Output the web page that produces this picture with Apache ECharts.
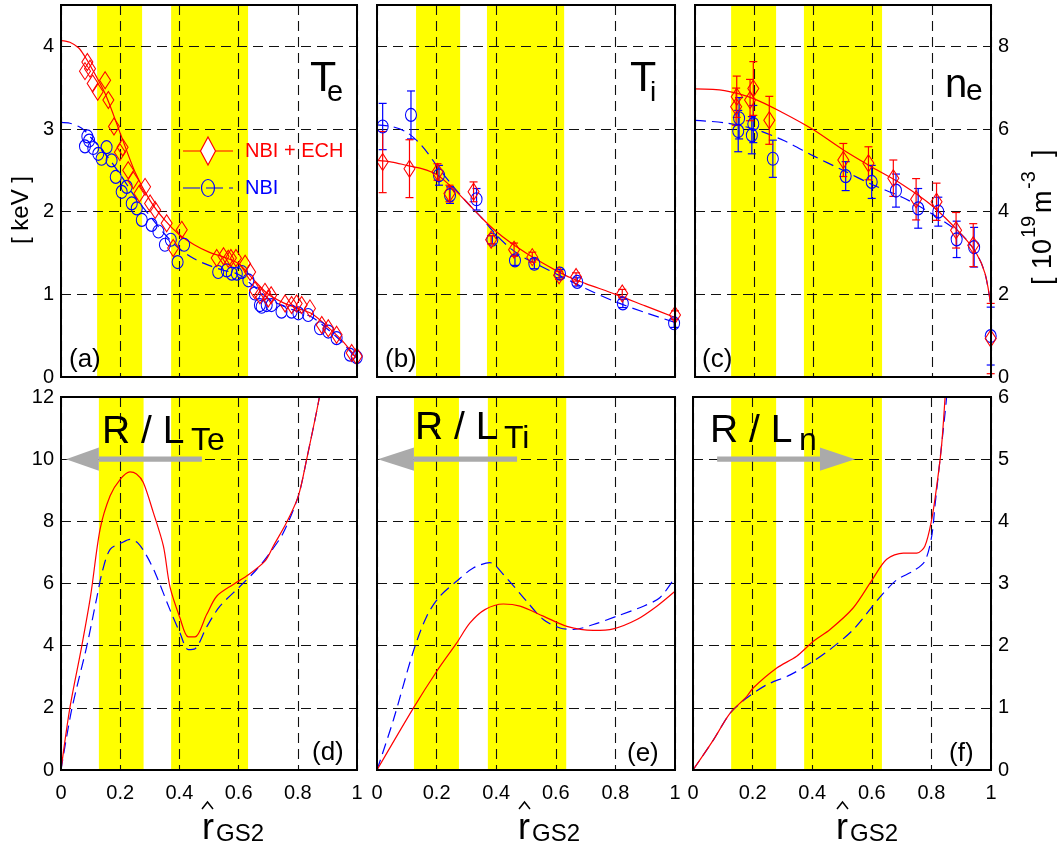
<!DOCTYPE html>
<html>
<head>
<meta charset="utf-8">
<script src="https://cdn.jsdelivr.net/npm/echarts@6/dist/echarts.min.js"></script>
<style>
  html, body { margin: 0; padding: 0; background: #fff; }
  #chart { width: 1058px; height: 851px; }
</style>
</head>
<body>
<div id="chart"></div>
<script>
// ---------- profile data: [r_GS2, value] ----------
// (a) electron temperature [keV]
const teEchPoints = [[0.081,3.70],[0.089,3.81],[0.098,3.73],[0.107,3.55],[0.124,3.45],[0.149,3.59],[0.160,3.35],[0.179,3.03],[0.199,2.72],[0.208,2.78],[0.227,2.50],[0.244,2.38],[0.265,2.22],[0.284,2.30],[0.301,2.10],[0.318,2.02],[0.357,1.86],[0.379,1.56],[0.408,1.78],[0.526,1.44],[0.549,1.46],[0.565,1.43],[0.574,1.44],[0.591,1.44],[0.622,1.37],[0.639,1.27],[0.655,1.05],[0.672,0.99],[0.689,1.03],[0.700,0.95],[0.710,0.99],[0.757,0.89],[0.779,0.87],[0.796,0.89],[0.813,0.87],[0.841,0.83],[0.881,0.63],[0.903,0.59],[0.931,0.51],[0.982,0.29],[0.999,0.25]];
const teNbiPoints = [[0.081,2.79],[0.089,2.91],[0.095,2.86],[0.109,2.77],[0.126,2.70],[0.137,2.64],[0.154,2.78],[0.171,2.62],[0.185,2.42],[0.205,2.24],[0.222,2.30],[0.239,2.10],[0.256,2.04],[0.273,1.90],[0.306,1.84],[0.329,1.76],[0.351,1.60],[0.371,1.66],[0.394,1.39],[0.416,1.60],[0.531,1.27],[0.560,1.29],[0.577,1.25],[0.594,1.25],[0.611,1.27],[0.633,1.17],[0.655,1.01],[0.672,0.87],[0.678,0.85],[0.695,0.87],[0.711,0.87],[0.745,0.79],[0.779,0.79],[0.802,0.77],[0.835,0.75],[0.875,0.59],[0.903,0.55],[0.931,0.47],[0.976,0.27],[0.999,0.24]];
const teFitR   = [0,0.03,0.06,0.08,0.1,0.15,0.2,0.25,0.3,0.35,0.4,0.45,0.5,0.55,0.6,0.65,0.7,0.75,0.8,0.85,0.9,0.95,1.0];
const teFitEch = [4.07,4.05,3.98,3.88,3.76,3.42,2.95,2.48,2.14,1.90,1.72,1.60,1.51,1.45,1.37,1.18,1.00,0.90,0.83,0.76,0.61,0.44,0.22];
const teFitNbi = [3.08,3.07,3.03,2.98,2.90,2.70,2.45,2.18,1.95,1.73,1.55,1.43,1.35,1.29,1.24,1.10,0.95,0.86,0.79,0.72,0.58,0.42,0.21];

// (b) ion temperature [keV]: [r, value, error]
const tiEchPoints = [[0.019,2.60,0.37],[0.109,2.52,0.35],[0.203,2.48,0.10],[0.243,2.22,0.10],[0.324,2.24,0.12],[0.383,1.66,0.05],[0.460,1.54,0.08],[0.521,1.45,0.06],[0.611,1.23,0.05],[0.668,1.21,0.05],[0.823,1.01,0.05],[1.000,0.75,0.05]];
const tiNbiPoints = [[0.019,3.03,0.28],[0.114,3.17,0.29],[0.208,2.44,0.12],[0.245,2.20,0.10],[0.334,2.15,0.13],[0.387,1.66,0.05],[0.463,1.41,0.06],[0.528,1.37,0.06],[0.614,1.25,0.05],[0.672,1.15,0.05],[0.825,0.89,0.05],[0.997,0.65,0.05]];
const tiFitR   = [0,0.05,0.1,0.15,0.2,0.25,0.3,0.35,0.4,0.45,0.5,0.55,0.6,0.65,0.7,0.8,0.9,1.0];
const tiFitEch = [2.62,2.60,2.56,2.52,2.45,2.30,2.12,1.93,1.76,1.62,1.50,1.39,1.29,1.20,1.13,1.00,0.86,0.72];
const tiFitNbi = [3.05,3.03,2.96,2.80,2.56,2.33,2.12,1.93,1.72,1.55,1.43,1.34,1.25,1.16,1.07,0.91,0.78,0.66];

// (c) electron density [1e19 m^-3]: [r, value, error]
const neEchPoints = [[0.139,6.54,0.45],[0.141,6.78,0.50],[0.186,6.70,0.50],[0.197,6.98,0.65],[0.251,6.21,0.58],[0.501,5.25,0.40],[0.586,5.17,0.40],[0.670,4.81,0.44],[0.747,4.30,0.50],[0.816,4.24,0.45],[0.882,3.55,0.43],[0.940,3.19,0.52],[0.999,0.93,0.85]];
const neNbiPoints = [[0.146,5.95,0.50],[0.149,6.26,0.50],[0.192,5.85,0.45],[0.197,6.12,0.45],[0.263,5.28,0.45],[0.509,4.86,0.35],[0.597,4.72,0.40],[0.679,4.51,0.40],[0.754,4.08,0.48],[0.822,4.00,0.35],[0.884,3.33,0.44],[0.943,3.14,0.48],[0.999,0.99,0.70]];
const neFitR   = [0,0.1,0.2,0.3,0.4,0.5,0.6,0.7,0.8,0.9,0.95,0.98,1.0];
const neFitEch = [6.97,6.93,6.73,6.38,5.98,5.50,5.07,4.66,4.15,3.45,3.00,2.50,1.70];
const neFitNbi = [6.21,6.15,6.00,5.72,5.35,5.00,4.65,4.35,3.95,3.45,3.00,2.50,1.70];

// (d) R/L_Te
const rlteEchR = [0,0.03,0.07,0.10,0.132,0.166,0.2,0.233,0.255,0.278,0.312,0.346,0.368,0.402,0.43,0.453,0.492,0.526,0.582,0.627,0.689,0.717,0.762,0.802,0.83,0.873,0.9];
const rlteEchV = [0,2.0,3.98,5.6,7.74,8.82,9.35,9.59,9.52,9.25,8.28,7.2,5.9,4.89,4.28,4.28,5.0,5.59,5.97,6.24,6.72,7.2,7.96,8.82,10.0,12.0,13.6];
const rlteNbiR = [0,0.036,0.087,0.12,0.14,0.166,0.205,0.233,0.26,0.29,0.32,0.368,0.402,0.43,0.453,0.492,0.537,0.605,0.661,0.706,0.751,0.802,0.83,0.873,0.9];
const rlteNbiV = [0,1.94,3.98,5.5,6.4,7.1,7.31,7.42,7.3,6.88,6.3,5.16,4.41,3.87,3.9,4.6,5.27,5.91,6.45,6.99,7.63,8.82,10.0,12.0,13.6];

// (e) R/L_Ti
const rltiEchR = [0,0.122,0.2,0.267,0.312,0.362,0.424,0.48,0.558,0.637,0.726,0.793,0.872,0.939,1.0];
const rltiEchV = [0,1.99,3.17,4.08,4.73,5.16,5.34,5.27,4.95,4.62,4.49,4.54,4.84,5.27,5.75];
const rltiNbiR = [0,0.055,0.122,0.167,0.211,0.267,0.323,0.379,0.424,0.502,0.558,0.614,0.659,0.726,0.805,0.894,0.95,1.0];
const rltiNbiV = [0,1.61,3.82,4.95,5.59,6.07,6.5,6.67,6.29,5.43,4.84,4.57,4.52,4.68,4.95,5.27,5.55,6.2];

// (f) R/L_n
const rlnEchR = [0,0.068,0.124,0.18,0.202,0.281,0.348,0.404,0.46,0.538,0.6,0.65,0.706,0.751,0.778,0.801,0.818,0.834,0.846,0.86];
const rlnEchV = [0,0.48,0.91,1.18,1.32,1.64,1.83,2.07,2.26,2.61,3.05,3.39,3.49,3.49,3.6,4.03,4.57,5.21,6.0,7.0];
const rlnNbiR = [0,0.068,0.124,0.17,0.186,0.247,0.326,0.404,0.46,0.538,0.631,0.684,0.739,0.778,0.801,0.812,0.829,0.851,0.865];
const rlnNbiV = [0,0.48,0.91,1.12,1.18,1.37,1.53,1.75,1.94,2.26,2.8,3.06,3.2,3.36,3.76,4.25,5.0,6.0,7.0];

// heated regions (yellow bands) per panel, in r_GS2
const bandsA = [[0.122,0.274],[0.372,0.632]];
const bandsB = [[0.131,0.279],[0.369,0.628]];
const bandsC = [[0.122,0.274],[0.368,0.632]];
const bandsD = [[0.128,0.279],[0.372,0.632]];
const bandsE = [[0.124,0.275],[0.372,0.635]];
const bandsF = [[0.128,0.279],[0.373,0.634]];

// ---------- styling ----------
const FONT = "'Liberation Sans', Arial, Helvetica, sans-serif";
const RED = '#ff0000', BLUE = '#0000ff', YEL = '#ffff00', GRAY = '#aaaaaa';
const GRIDLINE = { color: '#111', width: 1.1, type: [10, 6] };

const layout = [
  { left: 61,  top: 5,   width: 296, height: 372 },
  { left: 377, top: 5,   width: 298, height: 372 },
  { left: 695, top: 5,   width: 296, height: 372 },
  { left: 61,  top: 397, width: 296, height: 373 },
  { left: 377, top: 397, width: 298, height: 373 },
  { left: 693, top: 397, width: 298, height: 373 }
];

const zip = (xs, ys) => xs.map((x, i) => [x, ys[i]]);

const grids = layout.map(g => Object.assign({
  show: true, borderColor: '#000', borderWidth: 2, backgroundColor: 'transparent',
  containLabel: false, outerBoundsMode: 'none', z: 10
}, g));

const xAxes = layout.map((g, i) => ({
  type: 'value', gridIndex: i, min: 0, max: 1, interval: 0.2, z: 3,
  axisLine: { show: false }, axisTick: { show: false },
  splitLine: { show: true, lineStyle: GRIDLINE },
  axisLabel: {
    show: i >= 3, color: '#000', fontSize: 20, fontFamily: FONT, margin: 13,
    formatter: v => (v === 0 || v === 1) ? String(v) : v.toFixed(1)
  }
}));

function yAxis(i, max, interval, pos, showLabels, showMax) {
  return {
    type: 'value', gridIndex: i, min: 0, max: max, interval: interval, position: pos, z: 3,
    axisLine: { show: false }, axisTick: { show: false },
    splitLine: { show: true, lineStyle: GRIDLINE },
    axisLabel: {
      show: showLabels, color: '#000', fontSize: 20, fontFamily: FONT, margin: 7,
      showMaxLabel: showMax, showMinLabel: true
    }
  };
}
const yAxes = [
  yAxis(0, 4.5, 1, 'left', true, false),
  yAxis(1, 4.5, 1, 'left', false, false),
  yAxis(2, 9, 2, 'right', true, false),
  yAxis(3, 12, 2, 'left', true, true),
  yAxis(4, 12, 2, 'left', false, true),
  yAxis(5, 6, 1, 'right', true, true)
];

function bandSeries(i, bands) {
  return {
    type: 'custom', xAxisIndex: i, yAxisIndex: i, z: 1, silent: true,
    data: bands, encode: { x: [0, 1] },
    renderItem: (params, api) => {
      const cs = params.coordSys;
      const p0 = api.coord([api.value(0), 0]);
      const p1 = api.coord([api.value(1), 0]);
      return { type: 'rect', shape: { x: p0[0], y: cs.y, width: p1[0] - p0[0], height: cs.height },
               style: { fill: YEL } };
    }
  };
}

function fitSeries(i, data, color, dashed) {
  return {
    type: 'line', xAxisIndex: i, yAxisIndex: i, data: data, z: 5, silent: true,
    showSymbol: false, smooth: 0.3, clip: true,
    lineStyle: { color: color, width: 1.2, type: dashed ? [11, 6] : 'solid' }
  };
}

function markerSeries(i, data, color, diamond) {
  return {
    type: 'scatter', xAxisIndex: i, yAxisIndex: i, z: 7, silent: true,
    data: data.map(d => [d[0], d[1]]),
    symbol: diamond ? 'diamond' : 'circle',
    symbolSize: diamond ? [11, 17] : [11, 13],
    itemStyle: { color: 'rgba(0,0,0,0)', borderColor: color, borderWidth: 1.1, opacity: 1 }
  };
}

function errorSeries(i, data, color) {
  return {
    type: 'custom', xAxisIndex: i, yAxisIndex: i, z: 6, silent: true,
    data: data, encode: { x: 0, y: [1] },
    renderItem: (params, api) => {
      const r = api.value(0), v = api.value(1), e = api.value(2);
      const t = api.coord([r, v + e]), b = api.coord([r, v - e]);
      const w = 4, st = { stroke: color, lineWidth: 1.2 };
      return { type: 'group', children: [
        { type: 'line', shape: { x1: t[0], y1: t[1], x2: b[0], y2: b[1] }, style: st },
        { type: 'line', shape: { x1: t[0] - w, y1: t[1], x2: t[0] + w, y2: t[1] }, style: st },
        { type: 'line', shape: { x1: b[0] - w, y1: b[1], x2: b[0] + w, y2: b[1] }, style: st }
      ]};
    }
  };
}

const series = [
  // (a) Te
  bandSeries(0, bandsA),
  fitSeries(0, zip(teFitR, teFitNbi), BLUE, true),
  fitSeries(0, zip(teFitR, teFitEch), RED, false),
  markerSeries(0, teNbiPoints, BLUE, false),
  markerSeries(0, teEchPoints, RED, true),
  // (b) Ti
  bandSeries(1, bandsB),
  fitSeries(1, zip(tiFitR, tiFitNbi), BLUE, true),
  fitSeries(1, zip(tiFitR, tiFitEch), RED, false),
  errorSeries(1, tiNbiPoints, BLUE),
  errorSeries(1, tiEchPoints, RED),
  markerSeries(1, tiNbiPoints, BLUE, false),
  markerSeries(1, tiEchPoints, RED, true),
  // (c) ne
  bandSeries(2, bandsC),
  fitSeries(2, zip(neFitR, neFitNbi), BLUE, true),
  fitSeries(2, zip(neFitR, neFitEch), RED, false),
  errorSeries(2, neNbiPoints, BLUE),
  errorSeries(2, neEchPoints, RED),
  markerSeries(2, neNbiPoints, BLUE, false),
  markerSeries(2, neEchPoints, RED, true),
  // (d) R/L_Te
  bandSeries(3, bandsD),
  fitSeries(3, zip(rlteNbiR, rlteNbiV), BLUE, true),
  fitSeries(3, zip(rlteEchR, rlteEchV), RED, false),
  // (e) R/L_Ti
  bandSeries(4, bandsE),
  fitSeries(4, zip(rltiNbiR, rltiNbiV), BLUE, true),
  fitSeries(4, zip(rltiEchR, rltiEchV), RED, false),
  // (f) R/L_n
  bandSeries(5, bandsF),
  fitSeries(5, zip(rlnNbiR, rlnNbiV), BLUE, true),
  fitSeries(5, zip(rlnEchR, rlnEchV), RED, false)
];

// ---------- annotations ----------
function txt(x, y, text, size, opts) {
  return Object.assign({
    type: 'text', x: x, y: y, z: 20, silent: true,
    style: Object.assign({ text: text, fontSize: size, fontFamily: FONT, fill: '#000',
                           align: 'left', verticalAlign: 'middle' }, (opts && opts.style) || {})
  }, opts && opts.el || {});
}

const labels = [
  // quantity labels
  txt(310, 79, 'T', 43), txt(327, 93, 'e', 29),
  txt(630, 79, 'T', 43), txt(650, 93, 'i', 28),
  txt(945, 86, 'n', 40), txt(966, 92, 'e', 30),
  txt(102, 432, 'R / L', 39), txt(191, 441, 'Te', 32),
  txt(415, 428, 'R / L', 39), txt(504, 439, 'Ti', 32),
  txt(710, 431, 'R / L', 39), txt(799, 441, 'n', 32),
  // panel tags
  txt(69, 360, '(a)', 26), txt(385, 360, '(b)', 26), txt(702, 360, '(c)', 26),
  txt(312, 753, '(d)', 26), txt(627, 754, '(e)', 26), txt(949, 754, '(f)', 26),
  // x-axis titles
  txt(202, 829, 'r', 36), txt(216, 834, 'GS2', 24),
  txt(518, 829, 'r', 36), txt(532, 834, 'GS2', 24),
  txt(836, 829, 'r', 36), txt(850, 834, 'GS2', 24),
  { type: 'polyline', z: 20, silent: true, shape: { points: [[202,809],[207.5,802],[213,809]] }, style: { stroke: '#000', lineWidth: 1.5, fill: null } },
  { type: 'polyline', z: 20, silent: true, shape: { points: [[519,809],[524.5,802],[530,809]] }, style: { stroke: '#000', lineWidth: 1.5, fill: null } },
  { type: 'polyline', z: 20, silent: true, shape: { points: [[837,809],[842.5,802],[848,809]] }, style: { stroke: '#000', lineWidth: 1.5, fill: null } },
  // left unit
  txt(21, 210, '[ keV ]', 24, { el: { rotation: Math.PI / 2 }, style: { align: 'center' } }),
  // right unit
  { type: 'group', x: 1054, y: 285, rotation: Math.PI / 2, z: 20, children: [
      txt(0, -10, '[', 27), txt(16, -10, '10', 27), txt(47, -25, '19', 20),
      txt(72, -10, 'm', 27), txt(96, -25, '-3', 20), txt(128, -10, ']', 27)
  ]},
  // legend
  { type: 'line', z: 20, shape: { x1: 183, y1: 151, x2: 233, y2: 151 }, style: { stroke: RED, lineWidth: 1.2 } },
  { type: 'polygon', z: 21, shape: { points: [[208,137],[215.5,151],[208,165],[200.5,151]] }, style: { stroke: RED, lineWidth: 1.2, fill: '#fff' } },
  txt(245, 151, 'NBI + ECH', 20, { style: { fill: RED } }),
  { type: 'line', z: 20, shape: { x1: 183, y1: 188, x2: 233, y2: 188 }, style: { stroke: BLUE, lineWidth: 1.2, lineDash: [17, 6] } },
  { type: 'ellipse', z: 21, shape: { cx: 208, cy: 188, rx: 6.5, ry: 8.5 }, style: { stroke: BLUE, lineWidth: 1.2, fill: 'rgba(0,0,0,0)' } },
  txt(245, 188, 'NBI', 20, { style: { fill: BLUE } })
];

// gradient-direction arrows, placed in data coordinates of their panels
const arrowSpecs = [
  { grid: 3, from: 0.476, base: 0.128, tip: 0.017, y: 10 },
  { grid: 4, from: 0.470, base: 0.124, tip: 0.003, y: 10 },
  { grid: 5, from: 0.081, base: 0.426, tip: 0.544, y: 5 }
];

const chart = echarts.init(document.getElementById('chart'), null, { renderer: 'canvas' });
chart.setOption({
  animation: false,
  backgroundColor: '#fff',
  textStyle: { fontFamily: FONT },
  grid: grids, xAxis: xAxes, yAxis: yAxes, series: series
});

const arrows = [];
arrowSpecs.forEach(s => {
  const a = chart.convertToPixel({ gridIndex: s.grid }, [s.from, s.y]);
  const b = chart.convertToPixel({ gridIndex: s.grid }, [s.base, s.y]);
  const t = chart.convertToPixel({ gridIndex: s.grid }, [s.tip, s.y]);
  const y = a[1];
  arrows.push({ type: 'rect', z: 15, silent: true,
    shape: { x: Math.min(a[0], b[0]), y: y - 2.7, width: Math.abs(b[0] - a[0]), height: 5.4 },
    style: { fill: GRAY } });
  arrows.push({ type: 'polygon', z: 15, silent: true,
    shape: { points: [[b[0], y - 11.7], [t[0], y], [b[0], y + 11.7]] },
    style: { fill: GRAY } });
});

chart.setOption({ graphic: { elements: arrows.concat(labels) } });
</script>
</body>
</html>
